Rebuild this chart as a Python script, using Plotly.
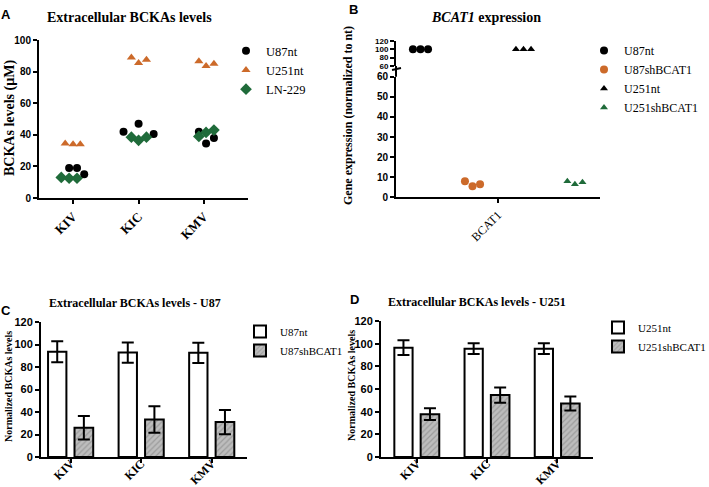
import plotly.graph_objects as go

W, H = 709, 487
def fx(p): return p / W
def fy(p): return 1 - p / H

SERIF = "Liberation Serif"
SANS = "Liberation Sans"

# ---------------- Panel A data ----------------
cats_A = ["KIV", "KIC", "KMV"]
u87nt_A = [[19, 19, 15], [42, 47, 40.5], [42, 34.5, 38]]
u251nt_A = [[34.5, 34, 34], [89, 85.5, 87.5], [86.5, 83.5, 85]]
ln229_A = [[13, 12.5, 12.5], [38.5, 36.5, 38.5], [39, 41.5, 43]]
# horizontal jitter (placement only)
jit_u87_A = [[-0.06, 0.06, 0.17], [-0.23, 0.0, 0.23], [-0.08, 0.03, 0.15]]
jit_u251_A = [[-0.12, 0.0, 0.11], [-0.11, 0.0, 0.12], [-0.08, 0.03, 0.15]]
jit_ln_A = [[-0.18, -0.06, 0.06], [-0.11, 0.0, 0.12], [-0.08, 0.03, 0.15]]

# ---------------- Panel B data ----------------
cat_B = ["BCAT1"]
u87nt_B = [100, 100, 100]
u87sh_B = [8, 5.5, 6.5]
u251nt_B = [100, 100, 100]
u251sh_B = [8, 6.5, 7.5]
group_off_B = [-0.38, -0.125, 0.125, 0.377]
jit_B = [-0.037, 0.0, 0.037]

# ---------------- Panel C / D data ----------------
cats_CD = ["KIV", "KIC", "KMV"]
u87nt_C = [93.5, 92.8, 92.6]
u87nt_C_err = [9.3, 9.0, 9.0]
u87sh_C = [26, 33.4, 31]
u87sh_C_err = [10.4, 11.8, 10.7]
sig_C = ["***", "**", "**"]

u251nt_D = [96.5, 95.6, 95.6]
u251nt_D_err = [6.5, 4.7, 4.7]
u251sh_D = [37.8, 54.6, 47.2]
u251sh_D_err = [5.2, 6.8, 6.2]
sig_D = ["**", "*", "*"]

ORANGE = "#cc6a2a"
GREEN = "#1f6b3a"

fig = go.Figure()

# ---- Panel A traces ----
def flat(vals, jit):
    xs, ys = [], []
    for i, (vv, jj) in enumerate(zip(vals, jit)):
        for v, j in zip(vv, jj):
            xs.append(i + j); ys.append(v)
    return xs, ys

for name, vals, jit, sym, col, sz in [
    ("U87nt", u87nt_A, jit_u87_A, "circle", "black", 8),
    ("U251nt", u251nt_A, jit_u251_A, "triangle-up", ORANGE, 8),
    ("LN-229", ln229_A, jit_ln_A, "diamond", GREEN, 9),
]:
    xs, ys = flat(vals, jit)
    fig.add_trace(go.Scatter(x=xs, y=ys, mode="markers", name=name,
                             marker=dict(symbol=sym, color=col, size=sz),
                             xaxis="x", yaxis="y", legend="legend"))

# ---- Panel B traces ----
for gi, (name, vals, sym, col, sz) in enumerate([
    ("U87nt", u87nt_B, "circle", "black", 8),
    ("U87shBCAT1", u87sh_B, "circle", ORANGE, 8),
    ("U251nt", u251nt_B, "triangle-up", "black", 7),
    ("U251shBCAT1", u251sh_B, "triangle-up", GREEN, 7),
]):
    xs = [group_off_B[gi] + j for j in jit_B]
    hi = [v for v in vals if v >= 60]
    lo = [v for v in vals if v < 60]
    xhi = [x for x, v in zip(xs, vals) if v >= 60]
    xlo = [x for x, v in zip(xs, vals) if v < 60]
    # upper (broken) segment carries the legend entry
    fig.add_trace(go.Scatter(x=xhi if hi else [None], y=hi if hi else [None], mode="markers", name=name,
                             marker=dict(symbol=sym, color=col, size=sz),
                             xaxis="x2", yaxis="y3", legend="legend2"))
    fig.add_trace(go.Scatter(x=xlo if lo else [None], y=lo if lo else [None], mode="markers", name=name,
                             marker=dict(symbol=sym, color=col, size=sz), showlegend=False,
                             xaxis="x2", yaxis="y2", legend="legend2"))

# ---- Panel C / D bars ----
def add_bars(nt, nt_err, sh, sh_err, names, xa, ya, leg):
    fig.add_trace(go.Bar(x=[0, 1, 2], y=nt, name=names[0], width=0.26, offset=-0.32,
                         marker=dict(color="white", line=dict(color="black", width=2)),
                         error_y=dict(type="data", array=nt_err, color="black", thickness=2, width=6),
                         xaxis=xa, yaxis=ya, legend=leg))
    fig.add_trace(go.Bar(x=[0, 1, 2], y=sh, name=names[1], width=0.265, offset=0.055,
                         marker=dict(color="#b8b8b8", line=dict(color="black", width=2),
                                     pattern=dict(shape="/", fgcolor="#7a7a7a", bgcolor="#bdbdbd",
                                                  size=4, solidity=0.3)),
                         error_y=dict(type="data", array=sh_err, color="black", thickness=2, width=6),
                         xaxis=xa, yaxis=ya, legend=leg))

add_bars(u87nt_C, u87nt_C_err, u87sh_C, u87sh_C_err, ["U87nt", "U87shBCAT1"], "x4", "y4", "legend3")
add_bars(u251nt_D, u251nt_D_err, u251sh_D, u251sh_D_err, ["U251nt", "U251shBCAT1"], "x5", "y5", "legend4")

# ---- axes ----
axis_common = dict(showgrid=False, zeroline=False, showline=True, linecolor="black", linewidth=2,
                   ticks="outside", tickcolor="black", tickwidth=2, ticklen=4, automargin=False)
ytick_font = dict(family=SANS, size=10, color="black", weight="bold")
xtick_font = dict(family=SERIF, size=12, color="black", weight="bold")

layout = dict(
    width=W, height=H, margin=dict(l=0, r=0, t=0, b=0, autoexpand=False),
    paper_bgcolor="white", plot_bgcolor="white", barmode="overlay", showlegend=True,
    xaxis=dict(domain=[fx(39), fx(248)], range=[-0.52, 2.67], anchor="y",
               tickvals=[0, 1, 2], ticktext=cats_A, tickangle=-45,
               tickfont=dict(family=SERIF, size=13, color="black", weight="bold"), **axis_common),
    yaxis=dict(domain=[fy(198), fy(40)], range=[0, 100], anchor="x", tickvals=[0, 20, 40, 60, 80, 100],
               tickfont=ytick_font, **axis_common),
    xaxis2=dict(domain=[fx(396), fx(600)], range=[-0.5, 0.5], anchor="y2",
                tickvals=[0], ticktext=cat_B, tickangle=-45,
                tickfont=dict(family=SERIF, size=12, color="black"), **axis_common),
    yaxis2=dict(domain=[fy(197.3), fy(76.7)], range=[0, 60], anchor="x2",
                tickvals=[0, 10, 20, 30, 40, 50, 60], tickfont=ytick_font, **axis_common),
    yaxis3=dict(domain=[fy(66), fy(40.7)], range=[60, 120], anchor="x2",
                tickvals=[60, 80, 100, 120], tickfont=dict(family=SANS, size=8, color="black", weight="bold"),
                **axis_common),
    xaxis4=dict(domain=[fx(41), fx(247)], range=[-0.42, 2.50], anchor="y4",
                tickvals=[0, 1, 2], ticktext=cats_CD, tickangle=-45, tickfont=xtick_font,
                ticklabelstandoff=-11, **axis_common),
    yaxis4=dict(domain=[fy(457), fy(322)], range=[0, 120], anchor="x4",
                tickvals=[0, 20, 40, 60, 80, 100, 120], tickfont=dict(family=SANS, size=11, color="black", weight="bold"),
                **axis_common),
    xaxis5=dict(domain=[fx(381), fx(593)], range=[-0.51, 2.51], anchor="y5",
                tickvals=[0, 1, 2], ticktext=cats_CD, tickangle=-45, tickfont=xtick_font,
                ticklabelstandoff=-11, **axis_common),
    yaxis5=dict(domain=[fy(457), fy(321)], range=[0, 120], anchor="x5",
                tickvals=[0, 20, 40, 60, 80, 100, 120], tickfont=dict(family=SANS, size=11, color="black", weight="bold"),
                **axis_common),
    legend=dict(x=fx(226), y=fy(36), xanchor="left", yanchor="top", bgcolor="rgba(0,0,0,0)",
                font=dict(family=SERIF, size=12.5, color="black")),
    legend2=dict(x=fx(584), y=fy(36), xanchor="left", yanchor="top", bgcolor="rgba(0,0,0,0)",
                 font=dict(family=SERIF, size=12, color="black")),
    legend3=dict(x=fx(240), y=fy(317), xanchor="left", yanchor="top", bgcolor="rgba(0,0,0,0)",
                 font=dict(family=SERIF, size=11, color="black")),
    legend4=dict(x=fx(598), y=fy(313), xanchor="left", yanchor="top", bgcolor="rgba(0,0,0,0)",
                 font=dict(family=SERIF, size=11, color="black")),
)
fig.update_layout(**layout)

# ---- annotations ----
ann = []
def txt(x, y, s, size, family=SERIF, bold=True, angle=0, xanchor="center", yanchor="middle"):
    ann.append(dict(x=fx(x), y=fy(y), xref="paper", yref="paper", text=s, showarrow=False,
                    textangle=angle, xanchor=xanchor, yanchor=yanchor,
                    font=dict(family=family, size=size, color="black", weight="bold" if bold else "normal")))

txt(129.5, 17, "Extracellular BCKAs levels", 14)
txt(486, 18, "<i>BCAT1</i> expression", 14)
txt(135, 303, "Extracellular BCKAs levels - U87", 12)
txt(477, 302, "Extracellular BCKAs levels - U251", 12)
txt(10, 118, "BCKAs levels (µM)", 14, angle=-90)
txt(348, 116, "Gene expression (normalized to nt)", 12, angle=-90)
txt(8, 387, "Normalized BCKAs levels", 10, angle=-90)
txt(351, 386, "Normalized BCKAs levels", 10, angle=-90)
txt(6, 15, "A", 13, family=SANS)
txt(353, 10, "B", 13, family=SANS)
txt(6, 310, "C", 13, family=SANS)
txt(354, 299, "D", 13, family=SANS)

shapes = []
def sig(xa, ya, ylev, labels):
    for i, s in enumerate(labels):
        shapes.append(dict(type="line", xref=xa, yref=ya, x0=i - 0.19, x1=i + 0.26, y0=ylev, y1=ylev,
                           line=dict(color="black", width=1.5)))
        ann.append(dict(x=i + 0.035, y=ylev, xref=xa, yref=ya, text=s, showarrow=False,
                        yanchor="bottom", yshift=-1, font=dict(family=SANS, size=8, color="black")))

sig("x4", "y4", 121.2, sig_C)
sig("x5", "y5", 123.8, sig_D)

# axis break connector for panel B
shapes.append(dict(type="line", xref="paper", yref="paper", x0=fx(396), x1=fx(396), y0=fy(66), y1=fy(76.7),
                   line=dict(color="black", width=2)))
shapes.append(dict(type="line", xref="paper", yref="paper", x0=fx(392), x1=fx(401), y0=fy(70), y1=fy(68),
                   line=dict(color="black", width=2)))

fig.update_layout(annotations=ann, shapes=shapes)
fig.write_html("out.html", config={"displayModeBar": False},
               post_script="document.body.style.margin='0';document.body.style.padding='0';")
